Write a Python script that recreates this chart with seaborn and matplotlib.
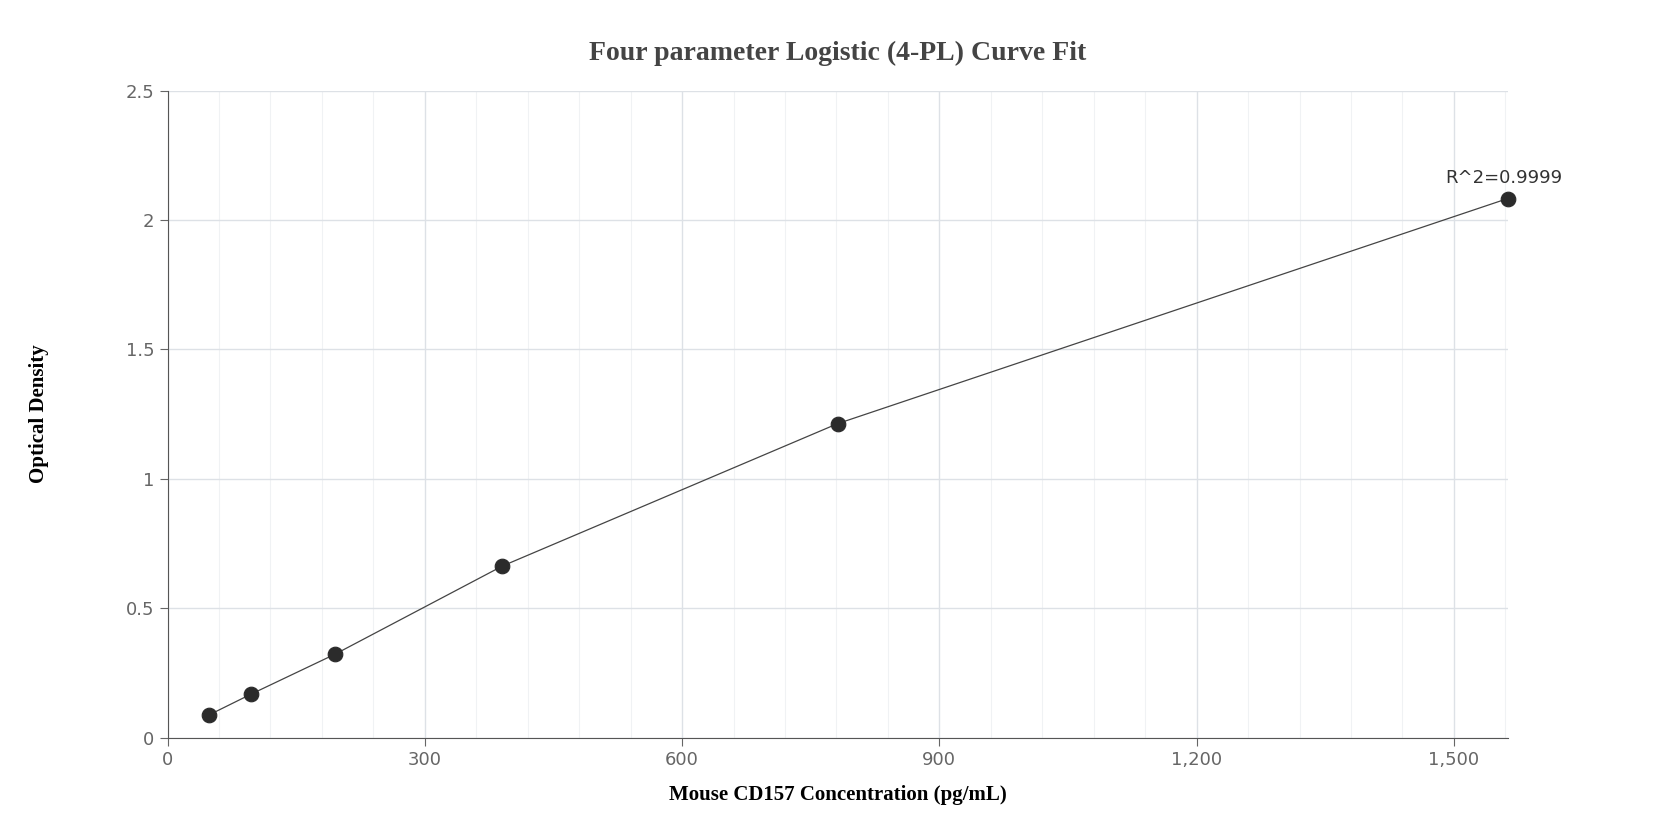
import matplotlib
matplotlib.use("Agg")
import matplotlib.pyplot as plt
import seaborn as sns
import pandas as pd
from matplotlib.ticker import MultipleLocator, FuncFormatter

conc = [48.83, 97.66, 195.3, 390.6, 781.25, 1562.5]
od = [0.088, 0.168, 0.322, 0.663, 1.213, 2.083]
df = pd.DataFrame({"conc": conc, "od": od})

fig = plt.figure(figsize=(16.75, 8.4), dpi=100)
ax = fig.add_axes([0.1, 0.122, 0.8, 0.77])
sns.lineplot(data=df, x="conc", y="od", ax=ax, color="#444444", linewidth=0.9)
sns.scatterplot(data=df, x="conc", y="od", ax=ax, color="#2b2b2b", s=110, edgecolor="#2b2b2b", zorder=5, clip_on=False)
ax.set_xlim(0, 1562.5)
ax.set_ylim(0, 2.5)
ax.xaxis.set_major_locator(MultipleLocator(300))
ax.xaxis.set_minor_locator(MultipleLocator(60))
ax.yaxis.set_major_locator(MultipleLocator(0.5))
ax.xaxis.set_major_formatter(FuncFormatter(lambda v, p: f"{int(v):,}"))
ax.yaxis.set_major_formatter(FuncFormatter(lambda v, p: f"{v:g}"))
ax.grid(which="major", color="#dde1e6", linewidth=1)
ax.grid(which="minor", axis="x", color="#f0f2f4", linewidth=0.8)
ax.set_axisbelow(True)
for s in ["top", "right"]:
    ax.spines[s].set_visible(False)
for s in ["left", "bottom"]:
    ax.spines[s].set_color("#555555")
ax.tick_params(which="minor", length=0)
ax.tick_params(which="major", labelsize=13, colors="#666666", length=6)
ax.set_xlabel("Mouse CD157 Concentration (pg/mL)", fontfamily="Liberation Serif", fontweight="bold", fontsize=15, labelpad=12)
ax.set_ylabel("Optical Density", fontfamily="Liberation Serif", fontweight="bold", fontsize=15, labelpad=55)
ax.set_title("Four parameter Logistic (4-PL) Curve Fit", fontfamily="Liberation Serif", fontweight="bold", fontsize=20, color="#444444", pad=22)
ax.annotate("R^2=0.9999", (conc[-1], od[-1]), xytext=(-3, 8), textcoords="offset points", ha="center", va="bottom", fontsize=13, color="#333333")
fig.savefig("out.png", dpi=100)
